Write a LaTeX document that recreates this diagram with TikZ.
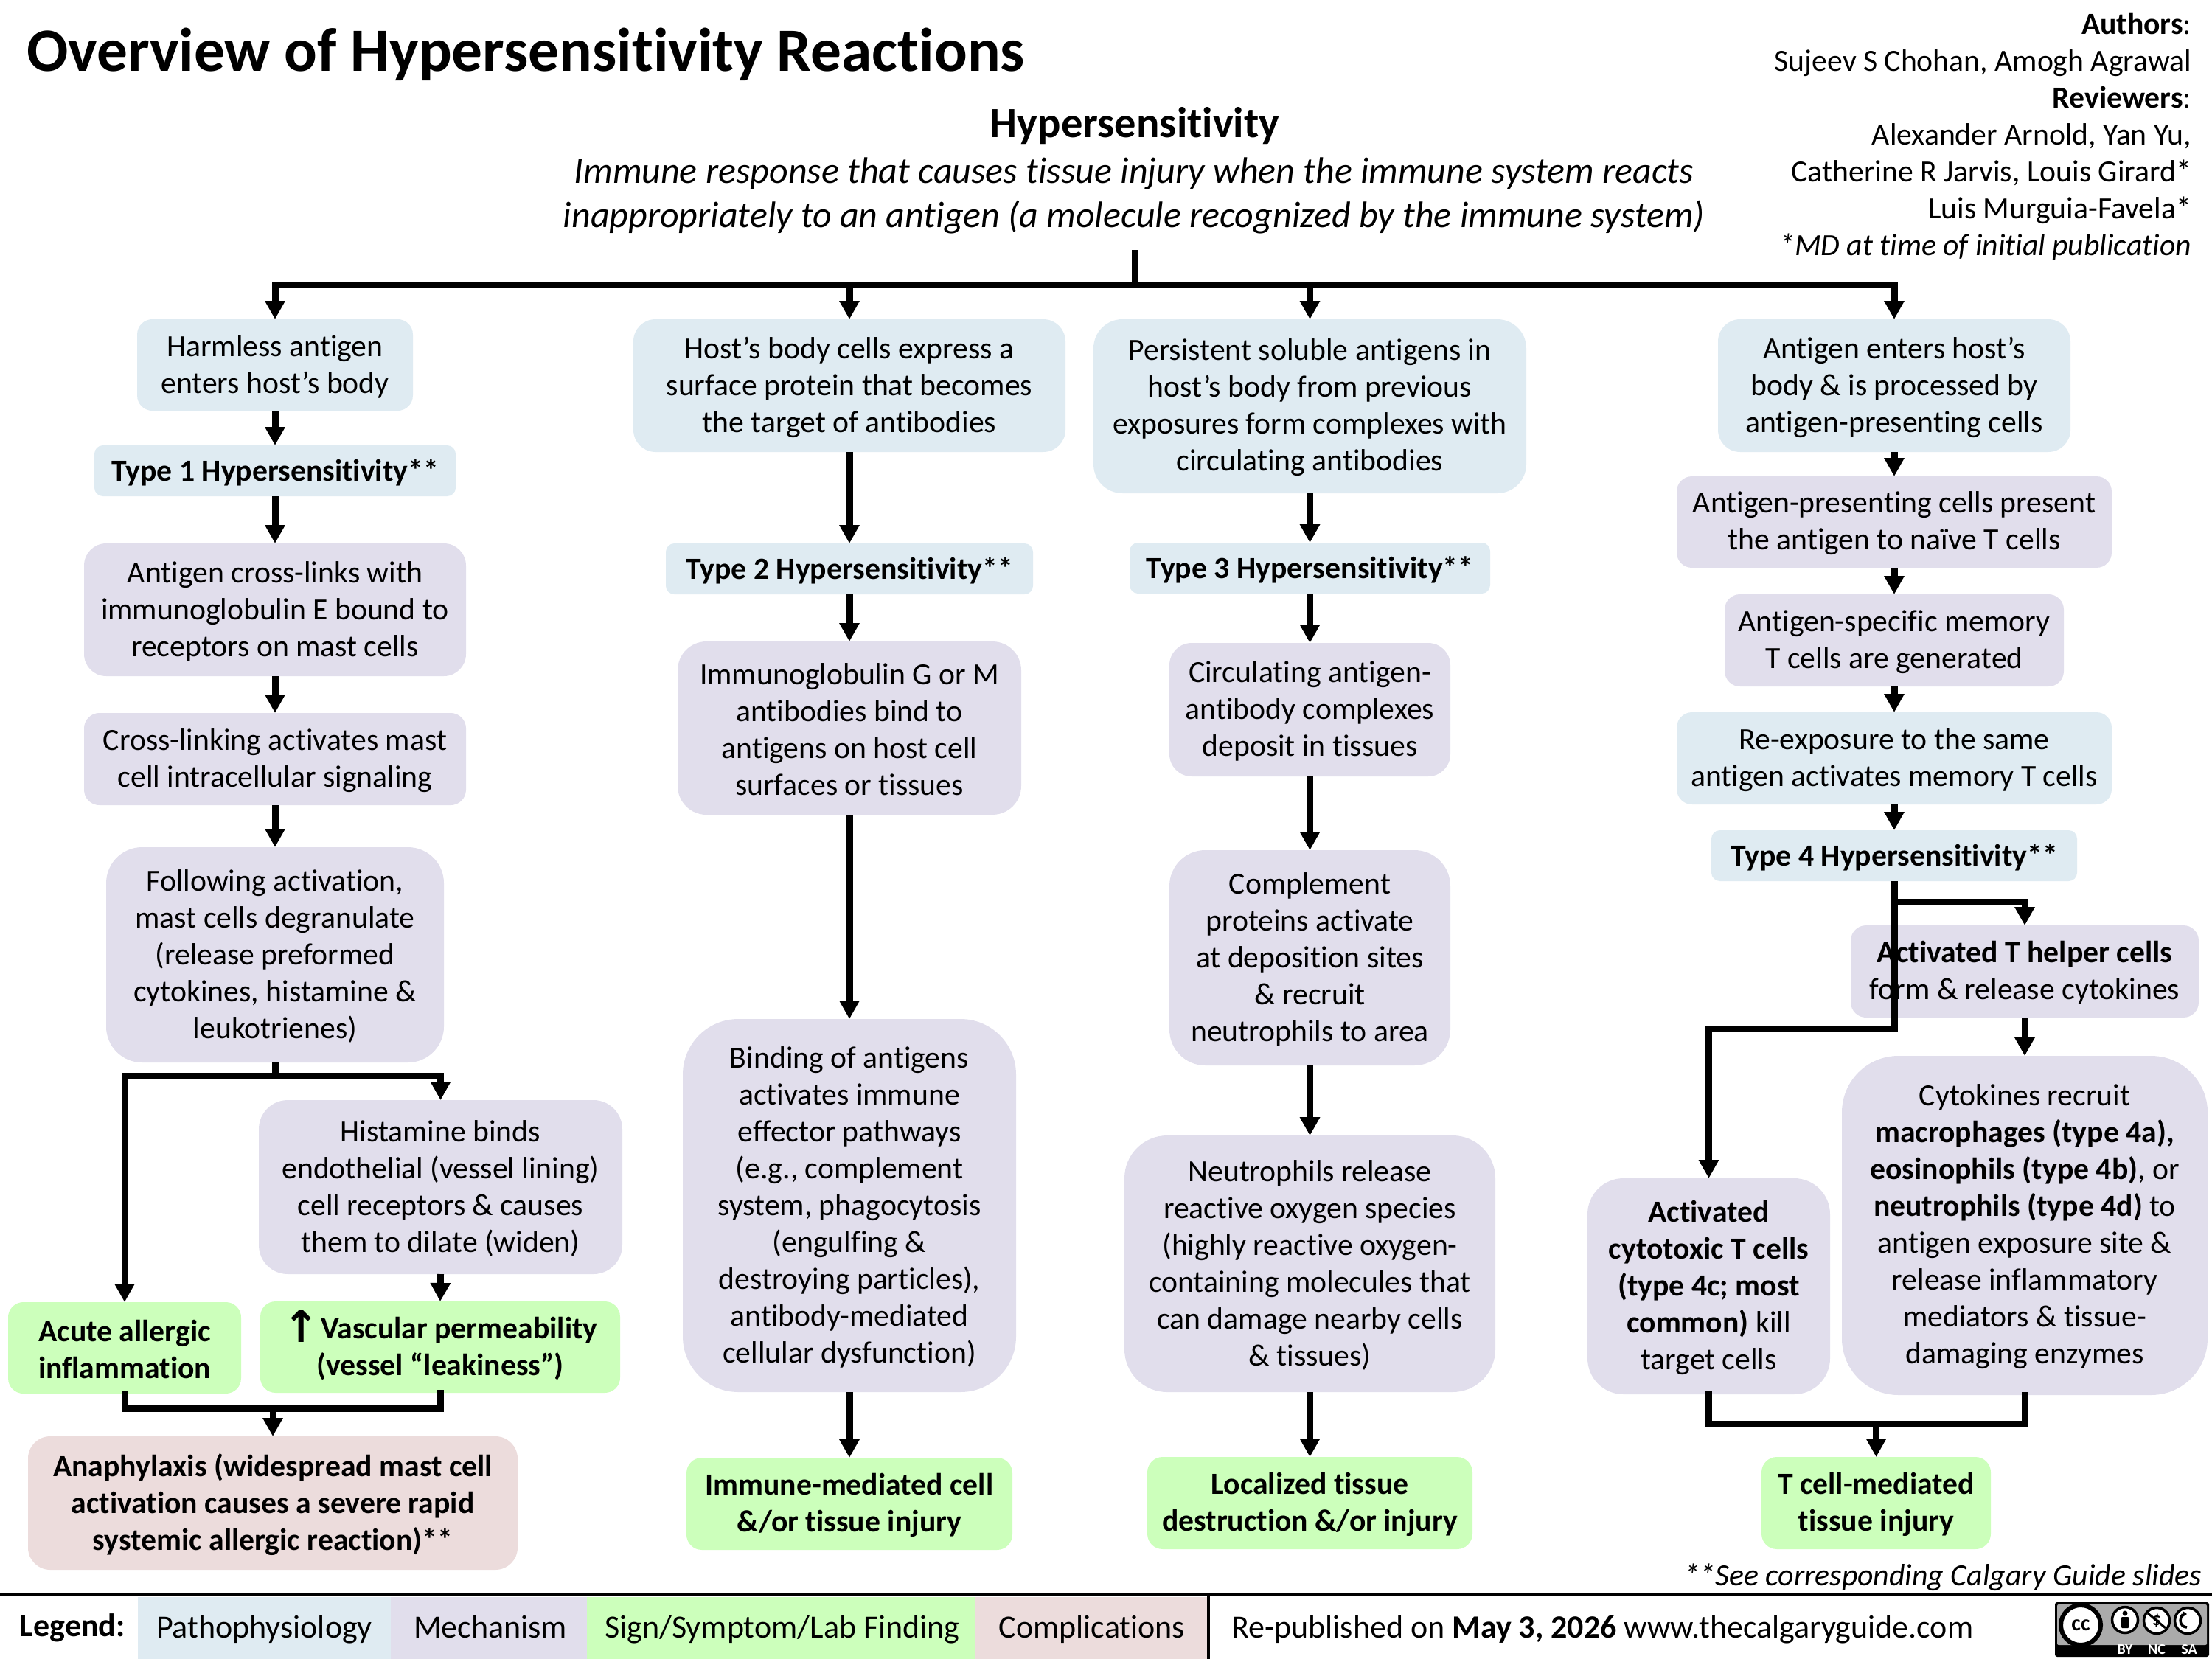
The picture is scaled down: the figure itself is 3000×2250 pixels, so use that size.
\documentclass[tikz,border=0pt]{standalone}
\usepackage{fontspec}
\setmainfont[Ligatures=NoCommon]{Carlito}
\newfontfamily\djv{DejaVu Sans}
\usetikzlibrary{arrows.meta}
\definecolor{patho}{RGB}{223,235,242}
\definecolor{mech}{RGB}{225,222,236}
\definecolor{sign}{RGB}{204,255,187}
\definecolor{comp}{RGB}{236,220,220}
\newcommand\bodyfs{\fontsize{41.7}{50}\selectfont}
\newcommand\legfs{\fontsize{44}{50}\selectfont}
\newcommand\bx[7]{%
 \pgfmathsetmacro\bw{#4-#2}\pgfmathsetmacro\bh{#5-#3}%
 \pgfmathsetmacro\br{min(\bw,\bh)/6}%
 \node[boxn,fill=#6,rounded corners=\br pt,minimum width=\bw pt,minimum height=\bh pt] (#1) at ({(#2+#4)/2},{(#3+#5)/2}) {};
 \node[boxn,yshift=-2pt] (#1-t) at (#1) {#7};}
\tikzset{
 boxn/.style={inner sep=0pt,outer sep=0pt,align=center,font=\bodyfs},
 conn/.style={line width=9pt,black},
 arr/.style={conn,-{Triangle[length=25pt,width=26pt,sharp]}},
 lab/.style={inner sep=0pt,outer sep=0pt},
 leg/.style={inner sep=0pt,outer sep=0pt,font=\legfs,text height=30pt,text depth=10pt},
 ccring/.style={circle,fill=white,draw=black,line width=3.5pt,minimum size=35pt,inner sep=0pt},
 cctext/.style={lab,white,font=\fontsize{20}{20}\selectfont\bfseries},
}
\begin{document}
\begin{tikzpicture}[x=1pt,y=-1pt]
\useasboundingbox (0,0) rectangle (3000,2250);
% title block
\node[lab,anchor=west,font=\fontsize{83.4}{90}\selectfont\bfseries] (title) at (36,74) {Overview of Hypersensitivity Reactions};
\node[lab,font=\fontsize{58.5}{60}\selectfont\bfseries] (hyp) at (1539,171) {Hypersensitivity};
\node[lab,align=center,font=\fontsize{50}{60}\selectfont\itshape] (def) at (1538,265) {Immune response that causes tissue injury when the immune system reacts\\inappropriately to an antigen (a molecule recognized by the immune system)};
\node[lab,align=right,anchor=north east,font=\bodyfs] (auth) at (2972,17) {\textbf{Authors}:\\Sujeev S Chohan, Amogh Agrawal\\\textbf{Reviewers}:\\Alexander Arnold, Yan Yu,\\Catherine R Jarvis, Louis Girard*\\Luis Murguia-Favela*\\\textit{*MD at time of initial publication}};
% column 1
\bx{a1}{186}{433}{560}{557}{patho}{Harmless antigen\\enters host’s body}
\bx{a2}{128}{604}{618}{673}{patho}{\textbf{Type 1 Hypersensitivity**}}
\bx{a3}{114}{737}{632}{917}{mech}{Antigen cross-links with\\immunoglobulin E bound to\\receptors on mast cells}
\bx{a4}{114}{967}{632}{1092}{mech}{Cross-linking activates mast\\cell intracellular signaling}
\bx{a5}{144}{1149}{602}{1441}{mech}{Following activation,\\mast cells degranulate\\(release preformed\\cytokines, histamine \&\\leukotrienes)}
\bx{a6}{351}{1492}{844}{1728}{mech}{Histamine binds\\endothelial (vessel lining)\\cell receptors \& causes\\them to dilate (widen)}
\bx{a7}{11}{1766}{327}{1890}{sign}{\textbf{Acute allergic}\\\textbf{inflammation}\hspace{14pt}}
\bx{a8}{353}{1765}{841}{1889}{sign}{\textbf{{\djv\fontsize{60}{50}\selectfont\smash{\raisebox{-5pt}{↑}}}\hspace{-8pt} Vascular permeability}\\\textbf{(vessel “leakiness”)}}
\bx{a9}{38}{1948}{702}{2129}{comp}{\textbf{Anaphylaxis (widespread mast cell}\\\textbf{activation causes a severe rapid}\\\textbf{systemic allergic reaction)**}}
% column 2
\bx{b1}{859}{433}{1445}{613}{patho}{Host’s body cells express a\\surface protein that becomes\\the target of antibodies}
\bx{b2}{903}{737}{1401}{806}{patho}{\textbf{Type 2 Hypersensitivity**}}
\bx{b3}{919}{870}{1385}{1105}{mech}{Immunoglobulin G or M\\antibodies bind to\\antigens on host cell\\surfaces or tissues}
\bx{b4}{926}{1382}{1378}{1888}{mech}{Binding of antigens\\activates immune\\effector pathways\\(e.g., complement\\system, phagocytosis\\(engulfing \&\\destroying particles),\\antibody-mediated\\cellular dysfunction)}
\bx{b5}{931}{1977}{1373}{2102}{sign}{\textbf{Immune-mediated cell}\\\textbf{\&/or tissue injury}}
% column 3
\bx{c1}{1483}{433}{2070}{669}{patho}{Persistent soluble antigens in\\host’s body from previous\\exposures form complexes with\\circulating antibodies}
\bx{c2}{1532}{736}{2021}{805}{patho}{\textbf{Type 3 Hypersensitivity**}}
\bx{c3}{1586}{872}{1967}{1053}{mech}{Circulating antigen-\\antibody complexes\\deposit in tissues}
\bx{c4}{1586}{1153}{1967}{1445}{mech}{Complement\\proteins activate\\at deposition sites\\\& recruit\\neutrophils to area}
\bx{c5}{1525}{1540}{2028}{1888}{mech}{Neutrophils release\\reactive oxygen species\\(highly reactive oxygen-\\containing molecules that\\can damage nearby cells\\\& tissues)}
\bx{c6}{1556}{1976}{1997}{2101}{sign}{\textbf{Localized tissue}\\\textbf{destruction \&/or injury}}
% column 4
\bx{d1}{2330}{433}{2808}{613}{patho}{Antigen enters host’s\\body \& is processed by\\antigen-presenting cells}
\bx{d2}{2274}{646}{2864}{770}{mech}{Antigen-presenting cells present\\the antigen to naïve T cells}
\bx{d3}{2339}{806}{2799}{931}{mech}{Antigen-specific memory\\T cells are generated}
\bx{d4}{2274}{966}{2864}{1091}{patho}{Re-exposure to the same\\antigen activates memory T cells}
\bx{d5}{2321}{1126}{2817}{1195}{patho}{\textbf{Type 4 Hypersensitivity**}}
\bx{d6}{2510}{1255}{2982}{1380}{mech}{\textbf{Activated T helper cells}\\form \& release cytokines}
\bx{d7}{2498}{1432}{2994}{1892}{mech}{Cytokines recruit\\\textbf{macrophages (type 4a),}\\\textbf{eosinophils (type 4b)}, or\\\textbf{neutrophils (type 4d)} to\\antigen exposure site \&\\release inflammatory\\mediators \& tissue-\\damaging enzymes}
\bx{d8}{2153}{1598}{2482}{1891}{mech}{\textbf{Activated}\\\textbf{cytotoxic T cells}\\\textbf{(type 4c; most}\\\textbf{common)} kill\\target cells}
\bx{d9}{2389}{1976}{2700}{2101}{sign}{\textbf{T cell-mediated}\\\textbf{tissue injury}}
% main bus
\coordinate (top) at (1539,339);
\coordinate (busL) at (373,386);
\coordinate (busR) at (2569,386);
\coordinate (busT) at (1539,386);
\draw[conn] (top) -- (busT);
\draw[conn,line cap=rect] (busL) -- (busR);
\draw[arr] (busL) -- (a1.north);
\draw[arr] (b1.north |- busL) -- (b1.north);
\draw[arr] (c1.north |- busL) -- (c1.north);
\draw[arr] (busR) -- (d1.north);
% column 1 links
\draw[arr] (a1.south) -- (a2.north);
\draw[arr] (a2.south) -- (a3.north);
\draw[arr] (a3.south) -- (a4.north);
\draw[arr] (a4.south) -- (a5.north);
\coordinate (s1) at (373,1459);
\draw[conn] (a5.south) -- (s1);
\draw[conn,line cap=rect] (a7.north |- s1) -- (a6.north |- s1);
\draw[arr] (a7.north |- s1) -- (a7.north);
\draw[arr] (a6.north |- s1) -- (a6.north);
\draw[arr] (a6.south) -- (a8.north);
\coordinate (m1) at (370,1910);
\draw[conn,line cap=rect] (a7.south) -- (a7.south |- m1) -- (a8.south |- m1) -- (a8.south);
\draw[arr] (m1) -- (a9.north);
% column 2 links
\draw[arr] (b1.south) -- (b2.north);
\draw[arr] (b2.south) -- (b3.north);
\draw[arr] (b3.south) -- (b4.north);
\draw[arr] (b4.south) -- (b5.north);
% column 3 links
\draw[arr] (c1.south) -- (c2.north);
\draw[arr] (c2.south) -- (c3.north);
\draw[arr] (c3.south) -- (c4.north);
\draw[arr] (c4.south) -- (c5.north);
\draw[arr] (c5.south) -- (c6.north);
% column 4 links
\draw[arr] (d1.south) -- (d2.north);
\draw[arr] (d2.south) -- (d3.north);
\draw[arr] (d3.south) -- (d4.north);
\draw[arr] (d4.south) -- (d5.north);
\coordinate (s2) at (2569,1223);
\coordinate (s3) at (2569,1395);
\draw[conn] (d5.south) -- (s3);
\draw[conn,line cap=rect] (s2) -- (d6.north |- s2);
\draw[arr] (d6.north |- s2) -- (d6.north);
\draw[conn,line cap=rect] (s3) -- (d8.north |- s3);
\draw[arr] (d8.north |- s3) -- (d8.north);
\draw[arr] (d6.south) -- (d7.north);
\coordinate (m2) at (2544.5,1931);
\draw[conn,line cap=rect] (d8.south) -- (d8.south |- m2) -- (d7.south |- m2) -- (d7.south);
\draw[arr] (m2) -- (d9.north);
% footer
\node[lab,anchor=east,font=\fontsize{41.8}{50}\selectfont\itshape] (see) at (2986,2139) {**See corresponding Calgary Guide slides};
\coordinate (lL) at (0,2162); \coordinate (lR) at (3000,2162);
\draw[line width=4pt] (lL) -- (lR);
\node[leg,anchor=west,font=\legfs\bfseries] (legt) at (27,2209) {Legend:};
\fill[patho] (187,2166) rectangle (530,2250);
\fill[mech] (530,2166) rectangle (796,2250);
\fill[sign] (796,2166) rectangle (1322,2250);
\fill[comp] (1322,2166) rectangle (1638,2250);
\node[leg] (l1) at (358.5,2211) {Pathophysiology};
\node[leg] (l2) at (665,2211) {Mechanism};
\node[leg] (l3) at (1061,2211) {Sign/Symptom/Lab Finding};
\node[leg] (l4) at (1481,2211) {Complications};
\coordinate (vt) at (1639,2164); \coordinate (vb) at (1639,2250);
\draw[line width=3.5pt] (vt) -- (vb);
\node[leg,anchor=west] (rep) at (1670,2211) {Re-published on \textbf{May 3, 2026} www.thecalgaryguide.com};
% licence badge
\begin{scope}[shift={(2787,2173)}]
\fill[black,rounded corners=3pt] (0,0) rectangle (209,74);
\fill[black!33,rounded corners=2pt] (3,3) rectangle (206,58);
\node[circle,fill=white,draw=black,line width=6pt,minimum size=54pt,inner sep=0pt,font=\fontsize{30}{30}\selectfont\bfseries] (cc) at (35,31) {cc};
\node[ccring] (by) at (95,24) {};
\fill (by.center) ++(0,-9) circle (3.5pt);
\fill[rounded corners=1pt] (by.center) ++(-5,-4) rectangle ++(10,15);
\node[ccring,font=\fontsize{24}{24}\selectfont\bfseries] (nc) at (138,25) {\$};
\draw[line width=3pt] (nc.center) ++(-12,-10) -- ++(24,20);
\node[ccring] (sa) at (180,25) {};
\draw[line width=3.5pt,-{Triangle[length=6pt,width=8pt]}] (sa.center) ++(-1,9) arc[start angle=90,end angle=-90,radius=-9pt];
\node[cctext] (t1) at (95,64) {BY};
\node[cctext] (t2) at (138,64) {NC};
\node[cctext] (t3) at (182,64) {SA};
\end{scope}
\end{tikzpicture}
\end{document}
